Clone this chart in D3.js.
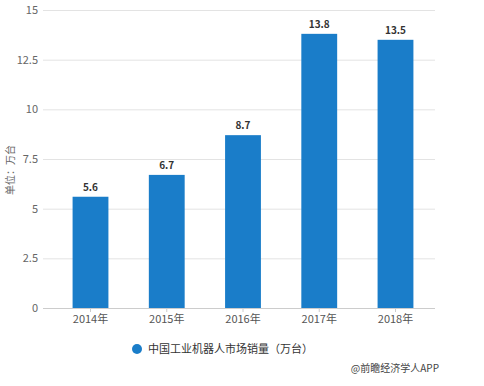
<!DOCTYPE html>
<html>
<head>
<meta charset="utf-8">
<script src="https://cdn.jsdelivr.net/npm/d3@7"></script>
<style>
  body { margin: 0; background: #fff; }
  text { font-family: "Noto Sans CJK SC", "Noto Sans", sans-serif; }
</style>
</head>
<body>
<svg id="chart" width="484" height="386"></svg>
<script>
const years = ["2014年", "2015年", "2016年", "2017年", "2018年"];
const sales = [5.6, 6.7, 8.7, 13.8, 13.5];
const yTicks = [0, 2.5, 5, 7.5, 10, 12.5, 15];
const seriesName = "中国工业机器人市场销量（万台）";
const yTitle = "单位：万台";
const credit = "@前瞻经济学人APP";

const BAR_COLOR = "#1a7dc9";
const svg = d3.select("#chart");

const x = d3.scaleBand()
  .domain(years)
  .range([52, 434])
  .paddingInner(0.53)
  .paddingOuter(0.27);

const y = d3.scaleLinear()
  .domain([0, 15])
  .range([308, 10]);

// grid lines
const yAxisGrid = d3.axisLeft(y)
  .tickValues(yTicks)
  .tickSize(-(435 - 43))
  .tickFormat(d => d);

const gy = svg.append("g")
  .attr("transform", "translate(43,0)")
  .call(yAxisGrid);
gy.select(".domain").remove();
gy.selectAll(".tick line").attr("stroke", "#e3e3e3");
gy.selectAll(".tick text")
  .attr("x", -5)
  .attr("fill", "#666")
  .style("font-size", "11px");

// bars
svg.append("g")
  .selectAll("rect")
  .data(sales)
  .enter()
  .append("rect")
  .attr("x", (d, i) => x(years[i]))
  .attr("y", d => y(d))
  .attr("width", x.bandwidth())
  .attr("height", d => y(0) - y(d))
  .attr("fill", BAR_COLOR);

// x axis
const gx = svg.append("g")
  .attr("transform", "translate(0,308)")
  .call(d3.axisBottom(x).tickSize(4).tickPadding(3));
gx.select(".domain").attr("d", "M43,0.5H435").attr("stroke", "#ccc");
gx.selectAll(".tick line").attr("stroke", "#ccc");
gx.selectAll(".tick text")
  .attr("fill", "#555")
  .style("font-size", "11px");

// value labels
svg.append("g")
  .selectAll("text")
  .data(sales)
  .enter()
  .append("text")
  .attr("x", (d, i) => x(years[i]) + x.bandwidth() / 2)
  .attr("y", d => y(d) - 6)
  .attr("text-anchor", "middle")
  .attr("fill", "#333")
  .style("font-size", "10px")
  .style("font-weight", "bold")
  .text(d => d);

// y axis title
svg.append("text")
  .attr("transform", "rotate(-90)")
  .attr("x", -170)
  .attr("y", 14)
  .attr("text-anchor", "middle")
  .attr("fill", "#666")
  .style("font-size", "10px")
  .text(yTitle);

// legend
svg.append("circle")
  .attr("cx", 137)
  .attr("cy", 349)
  .attr("r", 5)
  .attr("fill", BAR_COLOR);
svg.append("text")
  .attr("x", 148)
  .attr("y", 353)
  .attr("fill", "#333")
  .style("font-size", "11px")
  .text(seriesName);

// credit
svg.append("text")
  .attr("x", 439)
  .attr("y", 372)
  .attr("text-anchor", "end")
  .attr("fill", "#444")
  .style("font-size", "10px")
  .text(credit);
</script>
</body>
</html>
